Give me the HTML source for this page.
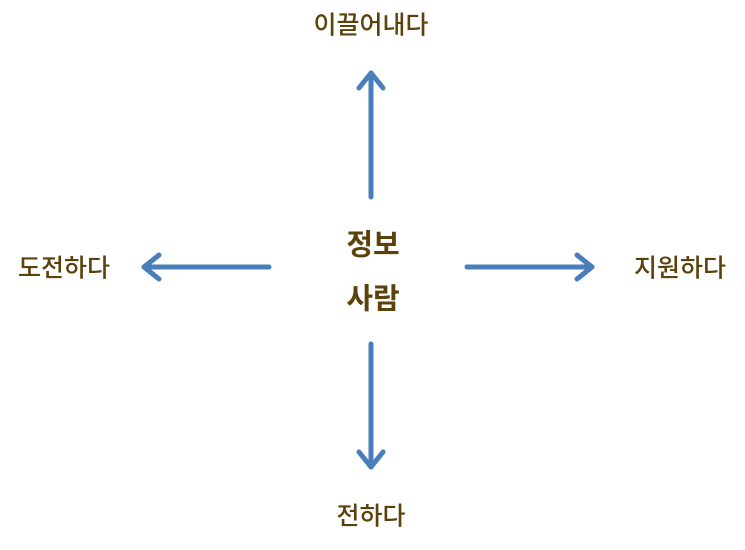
<!DOCTYPE html>
<html><head><meta charset="utf-8"><style>
body{margin:0;width:745px;height:550px;background:#fff;overflow:hidden;position:relative;font-family:"Liberation Sans","Noto Sans CJK KR","NanumGothic",sans-serif;color:#5a420a}
.t{position:absolute;font-size:25px;font-weight:500;white-space:nowrap;transform:translate(-50%,-50%);line-height:1}
.b{font-weight:bold;font-size:29px}
</style></head><body>
<svg width="745" height="550" style="position:absolute;left:0;top:0" fill="none" stroke="#4a7ebb" stroke-width="5" stroke-linecap="round" stroke-linejoin="round">
<line x1="371" y1="197" x2="371" y2="73"/><polyline points="359,88 371,73 383,88"/>
<line x1="269" y1="267" x2="144" y2="267"/><polyline points="159,255 144,267 159,279"/>
<line x1="467" y1="267" x2="592" y2="267"/><polyline points="577,255 592,267 577,279"/>
<line x1="371" y1="344" x2="371" y2="467"/><polyline points="359,452 371,467 383,452"/>
</svg>
<div class="t" style="left:371px;top:26px">이끌어내다</div>
<div class="t b" style="left:373px;top:246px">정보</div>
<div class="t b" style="left:373px;top:300px">사람</div>
<div class="t" style="left:64px;top:269px">도전하다</div>
<div class="t" style="left:680px;top:269px">지원하다</div>
<div class="t" style="left:371px;top:517px">전하다</div>
</body></html>
